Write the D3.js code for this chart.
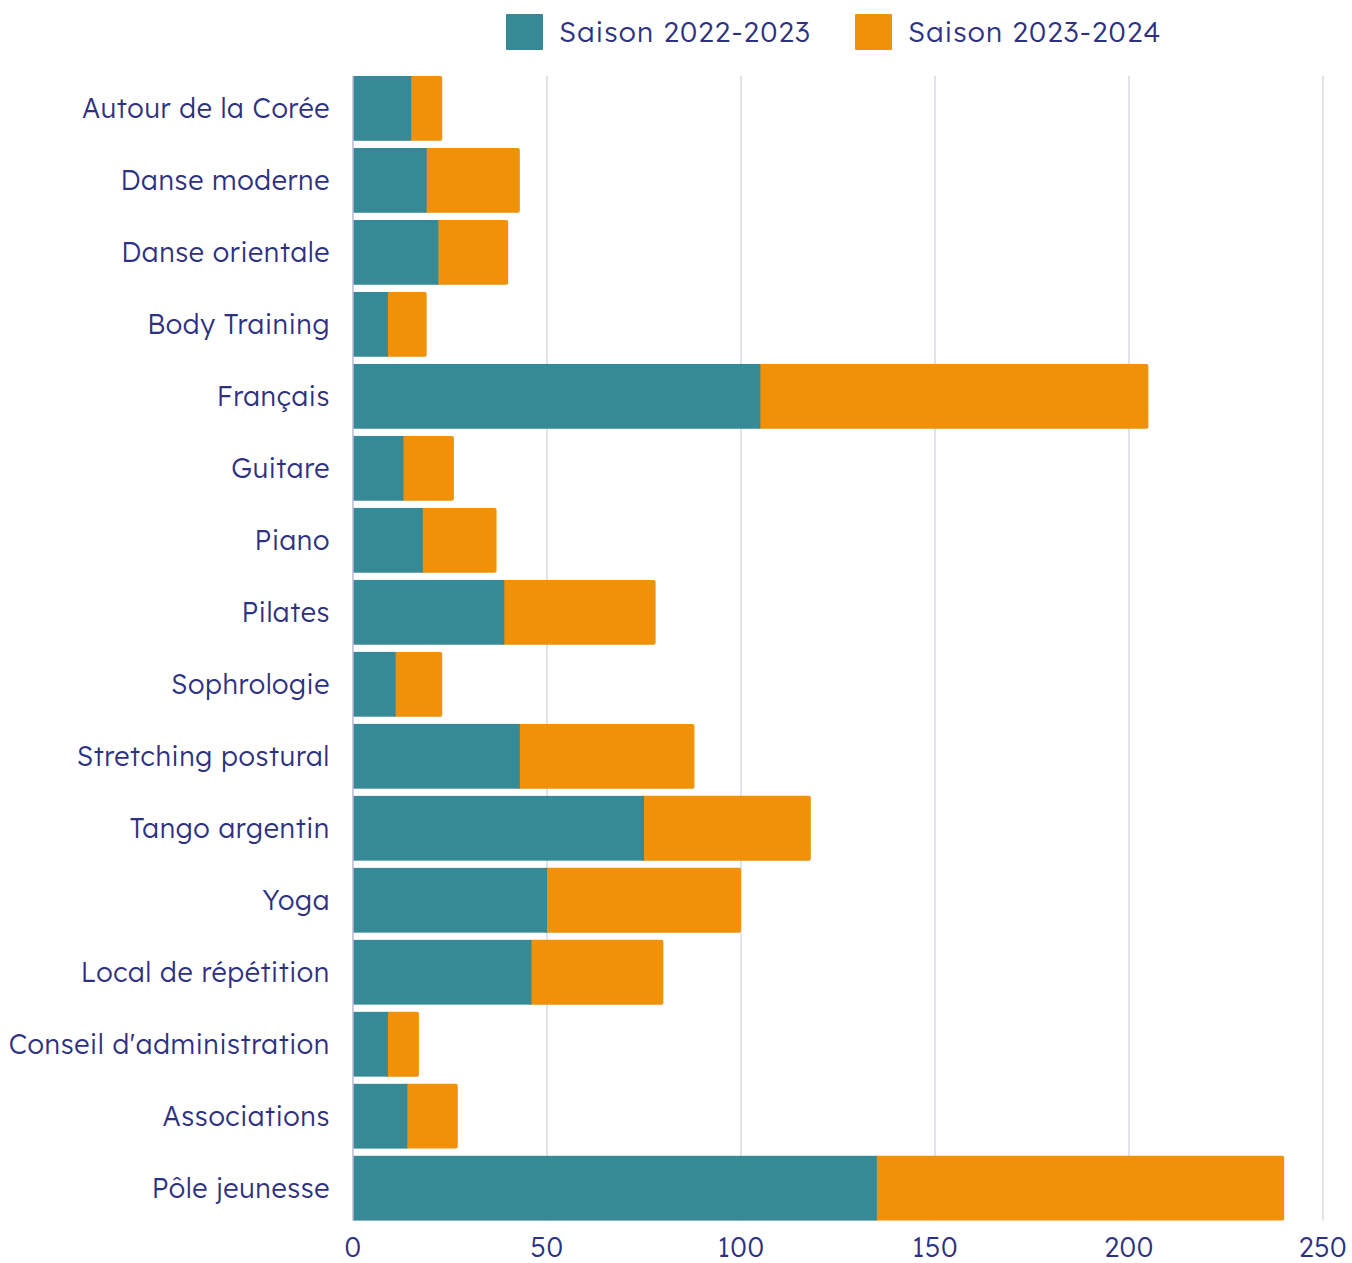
<!DOCTYPE html>
<html>
<head>
<meta charset="utf-8">
<script src="https://cdn.jsdelivr.net/npm/d3@7"></script>
<style>
  body { margin: 0; background: #fff; }
  text { font-family: "Lexend", "Open Sans", sans-serif; fill: #2e3182; font-weight: 300; letter-spacing: 0.6px; }
</style>
</head>
<body>
<svg id="chart" width="1352" height="1263"></svg>
<script>
// DATA
var categories = ["Autour de la Corée", "Danse moderne", "Danse orientale", "Body Training",
  "Français", "Guitare", "Piano", "Pilates", "Sophrologie", "Stretching postural",
  "Tango argentin", "Yoga", "Local de répétition", "Conseil d'administration",
  "Associations", "Pôle jeunesse"];
var saison2022 = [15, 19, 22, 9, 105, 13, 18, 39, 11, 43, 75, 50, 46, 9, 14, 135];
var saison2023 = [8, 24, 18, 10, 100, 13, 19, 39, 12, 45, 43, 50, 34, 8, 13, 105];
var seriesNames = ["Saison 2022-2023", "Saison 2023-2024"];
var xTicks = [0, 50, 100, 150, 200, 250];

var colors = ["#368a96", "#f0910a"];

// SIZES
var plotLeft = 353, plotRight = 1323, plotTop = 68.8, plotBottom = 1227.8;
var fontSize = "27px";

var svg = d3.select("#chart");

var x = d3.scaleLinear().domain([0, 250]).range([plotLeft, plotRight]);
var y = d3.scaleBand().domain(categories).range([plotTop, plotBottom]).padding(0.1);

var firstY = y(categories[0]);
var lastY = y(categories[categories.length - 1]) + y.bandwidth();

// gridlines
svg.append("g").selectAll("line.grid")
  .data(xTicks.slice(1))
  .enter()
  .append("line")
  .attr("class", "grid")
  .attr("x1", d => x(d)).attr("x2", d => x(d))
  .attr("y1", firstY).attr("y2", lastY)
  .style("stroke", "#d9d9ea")
  .style("stroke-width", 1.5);

// stacked bars
var rows = categories.map((c, i) => ({ cat: c, a: saison2022[i], b: saison2023[i] }));

var g = svg.append("g");
// orange drawn first with rounded end, teal on top
g.selectAll("rect.s2")
  .data(rows)
  .enter()
  .append("rect")
  .attr("class", "s2")
  .attr("x", d => x(d.a) - 3)
  .attr("y", d => y(d.cat))
  .attr("width", d => x(d.a + d.b) - x(d.a) + 3)
  .attr("height", y.bandwidth())
  .attr("rx", 2)
  .style("fill", colors[1]);

g.selectAll("rect.s1")
  .data(rows)
  .enter()
  .append("rect")
  .attr("class", "s1")
  .attr("x", x(0))
  .attr("y", d => y(d.cat))
  .attr("width", d => x(d.a) - x(0))
  .attr("height", y.bandwidth())
  .style("fill", colors[0]);

// y axis line
svg.append("line")
  .attr("x1", x(0)).attr("x2", x(0))
  .attr("y1", firstY).attr("y2", lastY)
  .style("stroke", "#b9b9d0")
  .style("stroke-width", 1.5);

// category labels
svg.append("g").selectAll("text.cat")
  .data(categories)
  .enter()
  .append("text")
  .attr("class", "cat")
  .attr("x", plotLeft - 23)
  .attr("y", d => y(d) + y.bandwidth() / 2)
  .attr("dy", "0.35em")
  .style("text-anchor", "end")
  .style("font-size", fontSize)
  .text(d => d);

// x tick labels
svg.append("g").selectAll("text.tick")
  .data(xTicks)
  .enter()
  .append("text")
  .attr("class", "tick")
  .attr("x", d => x(d))
  .attr("y", 1248)
  .attr("dy", "0.35em")
  .style("text-anchor", "middle")
  .style("font-size", fontSize)
  .text(d => d);

// legend
var legendX = [506, 855];
var legend = svg.append("g").selectAll("g.leg")
  .data(seriesNames)
  .enter()
  .append("g")
  .attr("class", "leg")
  .attr("transform", (d, i) => "translate(" + legendX[i] + ",14)");
legend.append("rect")
  .attr("width", 37).attr("height", 36).attr("rx", 1)
  .style("fill", (d, i) => colors[i]);
legend.append("text")
  .attr("x", 53).attr("y", 18).attr("dy", "0.35em")
  .style("font-size", "28px")
  .style("letter-spacing", "1.2px")
  .text(d => d);
</script>
</body>
</html>
